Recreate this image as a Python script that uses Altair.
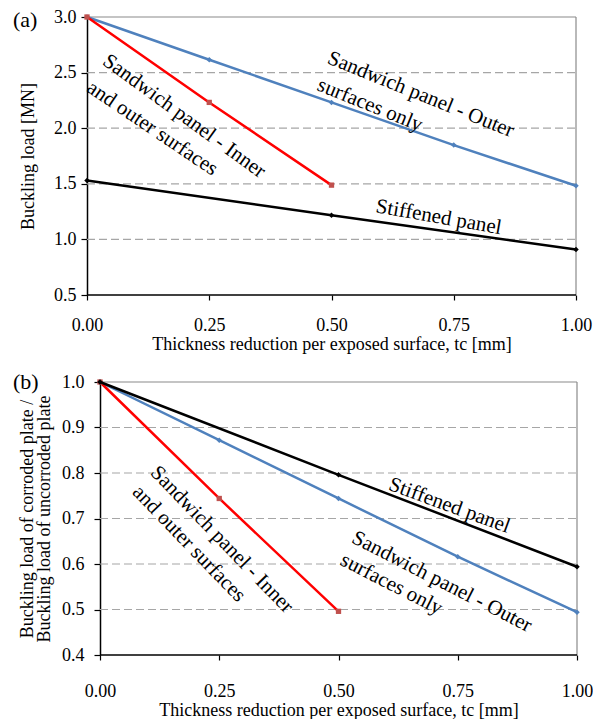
import altair as alt
import pandas as pd

# ---------------- data ----------------
x_full = [0.0, 0.25, 0.5, 0.75, 1.0]
x_half = [0.0, 0.25, 0.5]
x_stiff = [0.0, 0.5, 1.0]

# panel (a): buckling load [MN]
outer_a = [3.0, 2.616, 2.232, 1.848, 1.482]
inner_a = [3.0, 2.232, 1.488]
stiff_a = [1.53, 1.218, 0.909]

# panel (b): normalised buckling load
outer_b = [1.0, 0.872, 0.744, 0.616, 0.494]
inner_b = [1.0, 0.744, 0.496]
stiff_b = [1.0, 0.796, 0.594]

x_ticks = [0.0, 0.25, 0.5, 0.75, 1.0]
y_ticks_a = [0.5, 1.0, 1.5, 2.0, 2.5, 3.0]
y_ticks_b = [0.4, 0.5, 0.6, 0.7, 0.8, 0.9, 1.0]

# annotation labels: text, anchor x, anchor y, angle
ann_a_text = ["Sandwich panel - Inner", "and outer surfaces",
              "Sandwich panel - Outer", "surfaces only", "Stiffened panel"]
ann_a_x = [0.037, 0.004, 0.494, 0.473, 0.591]
ann_a_y = [2.624, 2.382, 2.637, 2.395, 1.298]
ann_a_angle = [36, 34, 22, 22, 10]

ann_b_text = ["Sandwich panel - Inner", "and outer surfaces",
              "Stiffened panel", "Sandwich panel - Outer", "surfaces only"]
ann_b_x = [0.113, 0.075, 0.607, 0.531, 0.507]
ann_b_y = [0.808, 0.765, 0.776, 0.660, 0.611]
ann_b_angle = [46, 46, 20, 27, 27]

FONT = "Liberation Serif, Times New Roman, Tinos, DejaVu Serif, serif"
BLUE = "#4f81bd"
RED = "#ff0000"
RED_MARK = "#c0504d"
BLACK = "#000000"
GRID = "#a6a6a6"
BORDER = "#8a8a8a"
X_TITLE = "Thickness reduction per exposed surface, tc [mm]"


def series_layers(xs, ys, xscale, yscale, line_color, mark_color, shape, size):
    df = pd.DataFrame({"x": xs, "y": ys})
    base = alt.Chart(df)
    enc = dict(x=alt.X("x:Q", scale=xscale), y=alt.Y("y:Q", scale=yscale))
    line = base.mark_line(color=line_color, strokeWidth=2.5).encode(**enc)
    pts = base.mark_point(shape=shape, filled=True, color=mark_color,
                          size=size, opacity=1).encode(**enc)
    return [line, pts]


def panel(label, label_y, y_title, yticks, outer, inner, stiff,
          ann_text, ann_x, ann_y, ann_angle, width, height, inset,
          y_label_pad, y_title_pad, x_label_pad, x_title_pad):
    ya, yb = yticks[0], yticks[-1]
    x0, x1 = x_ticks[0], x_ticks[-1]
    # the plot area may start "inset" pixels right of the panel origin
    xscale = alt.Scale(domain=[x0, x1], range=[inset, width], nice=False, zero=False)
    yscale = alt.Scale(domain=[ya, yb], nice=False, zero=False)

    x_axis = alt.Axis(values=x_ticks, format=".2f", title=X_TITLE, grid=False,
                      domain=False, tickColor="black",
                      tickWidth=1.2, tickSize=5, labelPadding=x_label_pad,
                      titlePadding=x_title_pad, labelFont=FONT, titleFont=FONT,
                      labelFontSize=18, titleFontSize=18, titleFontWeight="normal",
                      labelColor="black", titleColor="black", labelFlush=False,
                      labelOverlap=False)
    y_axis = alt.Axis(values=yticks, format=".1f", title=y_title, grid=False,
                      offset=-inset,
                      domainColor="black", domainWidth=1.5, tickColor="black",
                      tickWidth=1.2, tickSize=6, labelPadding=y_label_pad,
                      titlePadding=y_title_pad, labelFont=FONT, titleFont=FONT,
                      labelFontSize=18, titleFontSize=18, titleFontWeight="normal",
                      labelColor="black", titleColor="black", labelOverlap=False,
                      titleLineHeight=17)

    axes_df = pd.DataFrame({"x": [x0], "y": [ya]})
    axes_layer = alt.Chart(axes_df).mark_point(opacity=0).encode(
        x=alt.X("x:Q", scale=xscale, axis=x_axis),
        y=alt.Y("y:Q", scale=yscale, axis=y_axis),
    )

    # dashed horizontal grid lines (inner ticks)
    grid_df = pd.DataFrame({"y": yticks[1:-1], "xa": x0, "xb": x1})
    grid = alt.Chart(grid_df).mark_rule(color=GRID, strokeWidth=1.2,
                                        strokeDash=[8, 4]).encode(
        x=alt.X("xa:Q", scale=xscale), x2="xb:Q", y=alt.Y("y:Q", scale=yscale))

    # plot frame: grey top & right, black bottom axis line
    top_df = pd.DataFrame({"y": [yb], "xa": [x0], "xb": [x1]})
    top = alt.Chart(top_df).mark_rule(color=BORDER, strokeWidth=1.2).encode(
        x=alt.X("xa:Q", scale=xscale), x2="xb:Q", y=alt.Y("y:Q", scale=yscale))
    right_df = pd.DataFrame({"x": [x1], "ya": [ya], "yb": [yb]})
    right = alt.Chart(right_df).mark_rule(color=BORDER, strokeWidth=1.2).encode(
        x=alt.X("x:Q", scale=xscale), y=alt.Y("ya:Q", scale=yscale), y2="yb:Q")
    bottom_df = pd.DataFrame({"y": [ya], "xa": [x0], "xb": [x1]})
    bottom = alt.Chart(bottom_df).mark_rule(color="black", strokeWidth=1.5).encode(
        x=alt.X("xa:Q", scale=xscale), x2="xb:Q", y=alt.Y("y:Q", scale=yscale))

    layers = [axes_layer, grid, top, right, bottom]
    layers += series_layers(x_full, outer, xscale, yscale, BLUE, BLUE, "diamond", 30)
    layers += series_layers(x_half, inner, xscale, yscale, RED, RED_MARK, "square", 28)
    layers += series_layers(x_stiff, stiff, xscale, yscale, BLACK, BLACK, "diamond", 30)

    ann_df = pd.DataFrame({"t": ann_text, "x": ann_x, "y": ann_y, "a": ann_angle})
    ann = alt.Chart(ann_df).mark_text(align="left", baseline="middle",
                                      font=FONT, fontSize=21, color="black").encode(
        x=alt.X("x:Q", scale=xscale),
        y=alt.Y("y:Q", scale=yscale),
        text="t:N",
        angle=alt.Angle("a:Q", scale=None),
    )
    layers.append(ann)

    lab_df = pd.DataFrame({"t": [label]})
    lab = alt.Chart(lab_df).mark_text(align="left", baseline="middle", font=FONT,
                                      fontSize=22, color="black").encode(
        text="t:N", x=alt.value(-74), y=alt.value(label_y)
    )
    layers.append(lab)

    return alt.layer(*layers).properties(width=width, height=height)


chart_a = panel("(a)", 3, "Buckling load [MN]", y_ticks_a,
                outer_a, inner_a, stiff_a,
                ann_a_text, ann_a_x, ann_a_y, ann_a_angle, 489, 278, 0,
                y_label_pad=5, y_title_pad=16, x_label_pad=16, x_title_pad=1)

chart_b = panel("(b)", 0, ["Buckling load of corroded plate /",
                           "Buckling load of uncorroded plate"],
                y_ticks_b, outer_b, inner_b, stiff_b,
                ann_b_text, ann_b_x, ann_b_y, ann_b_angle, 490, 273, 13,
                y_label_pad=10, y_title_pad=8, x_label_pad=22, x_title_pad=1)

chart = alt.vconcat(chart_a, chart_b, spacing=18).properties(
    padding={"left": 5, "top": 0, "right": 0, "bottom": 0}
).configure_view(stroke="transparent", strokeWidth=0)

chart.save("out.html", embed_options={"renderer": "svg", "actions": False})
